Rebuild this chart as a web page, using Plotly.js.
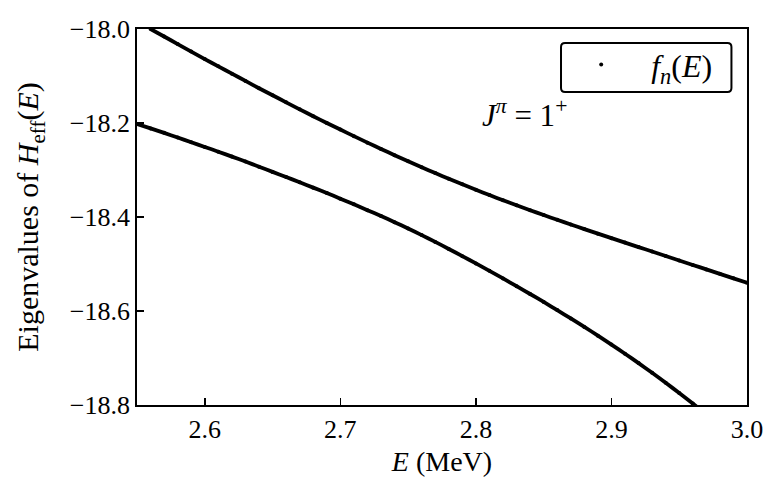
<!DOCTYPE html>
<html>
<head>
<meta charset="utf-8">
<script src="https://cdn.plot.ly/plotly-3.0.1.min.js"></script>
<style>
  html, body { margin: 0; padding: 0; background: #fff; }
  #myDiv { width: 781px; height: 498px; }
</style>
</head>
<body>
<div id="myDiv"></div>
<script>
// energies (MeV) and the two eigenvalue branches
var E_upper = [2.56, 2.57, 2.58, 2.59, 2.60, 2.61, 2.62, 2.63, 2.64, 2.65,
               2.66, 2.67, 2.68, 2.69, 2.70, 2.71, 2.72, 2.73, 2.74, 2.75,
               2.76, 2.77, 2.78, 2.79, 2.80, 2.81, 2.82, 2.83, 2.84, 2.85,
               2.86, 2.87, 2.88, 2.89, 2.90, 2.91, 2.92, 2.93, 2.94, 2.95,
               2.96, 2.97, 2.98, 2.99, 3.00];
var f_upper = [-18.000, -18.016, -18.032, -18.048, -18.064, -18.0795, -18.095, -18.1105, -18.126, -18.141,
               -18.156, -18.171, -18.1855, -18.200, -18.214, -18.228, -18.2418, -18.2553, -18.2685, -18.2815,
               -18.2942, -18.3066, -18.3187, -18.3305, -18.3421, -18.3534, -18.3644, -18.3751, -18.3856, -18.3959,
               -18.406, -18.4159, -18.4257, -18.4354, -18.445, -18.4545, -18.464, -18.4735, -18.483, -18.4925,
               -18.502, -18.5115, -18.521, -18.5305, -18.540];

var E_lower = [2.55, 2.56, 2.57, 2.58, 2.59, 2.60, 2.61, 2.62, 2.63, 2.64,
               2.65, 2.66, 2.67, 2.68, 2.69, 2.70, 2.71, 2.72, 2.73, 2.74,
               2.75, 2.76, 2.77, 2.78, 2.79, 2.80, 2.81, 2.82, 2.83, 2.84,
               2.85, 2.86, 2.87, 2.88, 2.89, 2.90, 2.91, 2.92, 2.93, 2.94,
               2.95, 2.96, 2.97];
var f_lower = [-18.202, -18.2115, -18.221, -18.231, -18.241, -18.251, -18.261, -18.2715, -18.282, -18.293,
               -18.304, -18.315, -18.326, -18.3375, -18.349, -18.361, -18.373, -18.3855, -18.398, -18.411,
               -18.4245, -18.4385, -18.453, -18.468, -18.4833, -18.4988, -18.5146, -18.5307, -18.5471, -18.5638,
               -18.5808, -18.5981, -18.6158, -18.6339, -18.6524, -18.6714, -18.6909, -18.7109, -18.7315, -18.7527,
               -18.7745, -18.7969, -18.8199];

var xTicks = [2.6, 2.7, 2.8, 2.9, 3.0];
var yTicks = [-18.8, -18.6, -18.4, -18.2, -18.0];

var serif = '"Liberation Serif", "Times New Roman", serif';

function lineTrace(x, y) {
  return {x: x, y: y, type: 'scatter', mode: 'lines', showlegend: false,
          hoverinfo: 'skip', line: {color: '#000', width: 3.8, shape: 'spline', smoothing: 0.6}};
}

var data = [
  lineTrace(E_upper, f_upper),
  lineTrace(E_lower, f_lower),
  {x: E_upper, y: f_upper, type: 'scatter', mode: 'markers', name: '<i>f</i><sub><i>n</i></sub>(<i>E</i>)',
   legendgroup: 'f', marker: {color: '#000', size: 4}},
  {x: E_lower, y: f_lower, type: 'scatter', mode: 'markers', showlegend: false,
   legendgroup: 'f', marker: {color: '#000', size: 4}}
];

var layout = {
  width: 781, height: 498,
  margin: {l: 137, r: 34, t: 29, b: 93},
  paper_bgcolor: '#fff', plot_bgcolor: '#fff',
  font: {family: serif, size: 26, color: '#000'},
  showlegend: true,
  legend: {x: 0.679, xanchor: 'left', y: 0.978, yanchor: 'top',
           bgcolor: 'rgba(255,255,255,0)', borderwidth: 0,
           font: {family: serif, size: 32}, itemwidth: 90},
  xaxis: {
    range: [2.55, 3.0], tickvals: xTicks, tickformat: '.1f',
    ticks: 'inside', ticklen: 7, tickwidth: 1.5, tickcolor: '#000',
    tickfont: {family: serif, size: 26, color: '#000'},
    showline: true, linecolor: '#000', linewidth: 1.8, mirror: true,
    showgrid: false, zeroline: false,
    title: {text: '<i>E</i> (MeV)', font: {family: serif, size: 28}, standoff: 8}
  },
  yaxis: {
    range: [-18.8, -18.0], tickvals: yTicks, tickformat: '.1f',
    ticks: 'inside', ticklen: 7, tickwidth: 1.5, tickcolor: '#000',
    tickfont: {family: serif, size: 26, color: '#000'},
    showline: true, linecolor: '#000', linewidth: 1.8, mirror: true,
    showgrid: false, zeroline: false,
    title: {text: 'Eigenvalues of <i>H</i><sub>eff</sub>(<i>E</i>)', font: {family: serif, size: 30}, standoff: 22}
  },
  shapes: [
    // rounded legend frame
    {type: 'path', xref: 'paper', yref: 'paper', layer: 'above',
     path: 'M 0.7017 0.9628 L 0.9679 0.9628 Q 0.9745 0.9628 0.9745 0.9522 L 0.9745 0.843 Q 0.9745 0.8324 0.9679 0.8324 L 0.7017 0.8324 Q 0.6951 0.8324 0.6951 0.843 L 0.6951 0.9522 Q 0.6951 0.9628 0.7017 0.9628 Z',
     line: {color: '#000', width: 2}}
  ],
  annotations: [
    {x: 2.8355, y: -18.179, xref: 'x', yref: 'y', showarrow: false,
     text: '<i>J</i><sup><i>π</i></sup> = 1<sup>+</sup>', font: {family: serif, size: 31}}
  ]
};

Plotly.newPlot('myDiv', data, layout, {displayModeBar: false, staticPlot: true});
</script>
</body>
</html>
